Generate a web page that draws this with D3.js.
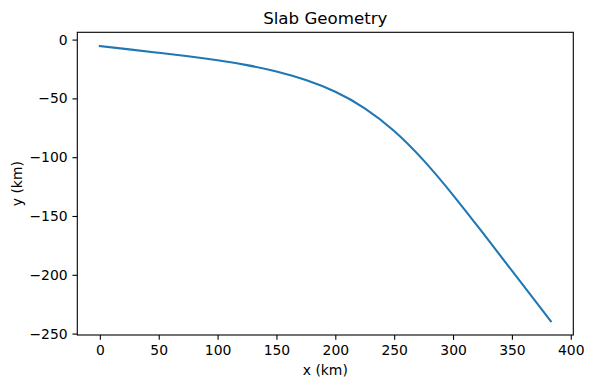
<!DOCTYPE html>
<html>
<head>
	<meta charset="utf-8">
	<title>Slab Geometry</title>
	<script src="https://cdn.jsdelivr.net/npm/d3@7"></script>
	<style>
		body { margin: 0; background: #fff; }
		svg { display: block; font-family: "DejaVu Sans", sans-serif; }
	</style>
</head>
<body>
	<div id="chart"></div>
	<script>

	// data
	const xKm = [0, 25, 50, 75, 100, 125, 150, 175, 200, 225, 250, 275, 300, 325, 350, 383];
	const yKm = [-5.5, -8.3, -11.2, -14.2, -17.6, -21.7, -27.1, -34.4, -44.4, -58.4, -77.7, -102.7, -132.2, -164, -196.5, -239.5];
	const xTicks = [0, 50, 100, 150, 200, 250, 300, 350, 400];
	const yTicks = [0, -50, -100, -150, -200, -250];

	const title  = "Slab Geometry";
	const xLabel = "x (km)";
	const yLabel = "y (km)";

	const width  = 593;
	const height = 388;
	const margin = { top: 32.3, right: 19.7, bottom: 53, left: 77.3 };
	const color  = "#1f77b4";
	const tickFont = "13.9px";

	const data = xKm.map((x, i) => ({ x, y: yKm[i] }));

	// matplotlib-like 5% padding
	const pad = (lo, hi) => { const m = (hi - lo) * 0.05; return [lo - m, hi + m]; };

	const x = d3.scaleLinear()
		.domain(pad(d3.min(xKm), d3.max(xKm)))
		.range([margin.left, width - margin.right]);
	const y = d3.scaleLinear()
		.domain(pad(d3.min(yKm), d3.max(yKm)))
		.range([height - margin.bottom, margin.top]);

	const svg = d3.select("#chart").append("svg")
		.attr("width", width)
		.attr("height", height)
		.attr("viewBox", [0, 0, width, height]);

	svg.append("rect")
		.attr("width", width).attr("height", height).attr("fill", "#fff");

	// line
	const line = d3.line()
		.x(d => x(d.x))
		.y(d => y(d.y))
		.curve(d3.curveNatural);

	svg.append("path")
		.datum(data)
		.attr("fill", "none")
		.attr("stroke", color)
		.attr("stroke-width", 2.08)
		.attr("stroke-linecap", "square")
		.attr("d", line);

	// axes
	const xAxis = d3.axisBottom(x).tickValues(xTicks).tickSize(4.86).tickPadding(4.86).tickSizeOuter(0);
	const yAxis = d3.axisLeft(y).tickValues(yTicks).tickSize(4.86).tickPadding(4.86).tickSizeOuter(0);

	svg.append("g")
		.attr("transform", `translate(0,${height - margin.bottom})`)
		.call(xAxis)
		.call(g => g.select(".domain").remove())
		.call(g => g.selectAll(".tick line").attr("stroke", "#000").attr("stroke-width", 1.1))
		.call(g => g.selectAll(".tick text")
			.attr("fill", "#000").style("font-size", tickFont)
			.style("font-family", "DejaVu Sans").attr("dy", "0.72em"));

	svg.append("g")
		.attr("transform", `translate(${margin.left},0)`)
		.call(yAxis)
		.call(g => g.select(".domain").remove())
		.call(g => g.selectAll(".tick line").attr("stroke", "#000").attr("stroke-width", 1.1))
		.call(g => g.selectAll(".tick text")
			.attr("fill", "#000").style("font-size", tickFont)
			.style("font-family", "DejaVu Sans"));

	// frame
	svg.append("rect")
		.attr("x", margin.left)
		.attr("y", margin.top)
		.attr("width", width - margin.left - margin.right)
		.attr("height", height - margin.top - margin.bottom)
		.attr("fill", "none")
		.attr("stroke", "#000")
		.attr("stroke-width", 1.1);

	// labels
	const cx = (margin.left + width - margin.right) / 2;
	const cy = (margin.top + height - margin.bottom) / 2;

	svg.append("text")
		.attr("x", cx).attr("y", 24)
		.attr("text-anchor", "middle")
		.style("font-size", "16.67px")
		.text(title);

	svg.append("text")
		.attr("x", cx).attr("y", 375)
		.attr("text-anchor", "middle")
		.style("font-size", tickFont)
		.text(xLabel);

	svg.append("text")
		.attr("transform", `translate(22,${cy}) rotate(-90)`)
		.attr("text-anchor", "middle")
		.style("font-size", tickFont)
		.text(yLabel);

	</script>
</body>
</html>
